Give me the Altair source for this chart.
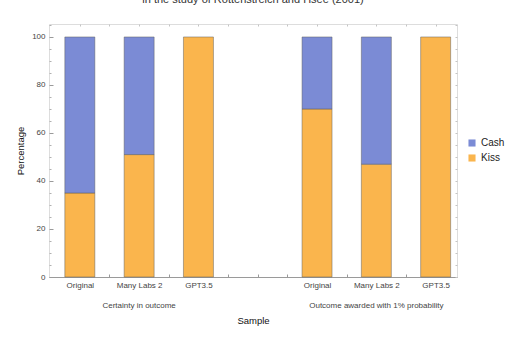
import altair as alt
import pandas as pd

# ---- data ----
samples = ["Original", "Many Labs 2", "GPT3.5"]
group_names = ["Certainty in outcome", "Outcome awarded with 1% probability"]
kiss_pct = [[35, 51, 100], [70, 47, 100]]
cash_pct = [[65, 49, 0], [30, 53, 0]]
choices = ["Cash", "Kiss"]
y_major = [0, 20, 40, 60, 80, 100]
y_minor = [5, 10, 15, 25, 30, 35, 45, 50, 55, 65, 70, 75, 85, 90, 95, 105]

FONT = "Liberation Sans"
BLUE = "#7b8bd5"
ORANGE = "#fab54d"

# slot index: bars 1..3, empty slot 4, bars 5..7
rows = []
slot_labels = [""]
centers = []
slot = 0
for g, gname in enumerate(group_names):
    gslots = []
    for i, s in enumerate(samples):
        slot += 1
        gslots.append(slot)
        slot_labels.append(s)
        for ch, vals, order in (("Kiss", kiss_pct, 0), ("Cash", cash_pct, 1)):
            v = vals[g][i]
            if v > 0:
                rows.append({"slot": slot, "sample": s, "group": gname,
                             "choice": ch, "pct": v, "ord": order})
    centers.append({"slot": sum(gslots) / len(gslots), "label": gname})
    slot += 1  # empty slot between groups
    slot_labels.append("")

df = pd.DataFrame(rows)
gdf = pd.DataFrame(centers)
boundaries = [1.5, 2.5, 3.5, 4.0, 4.5, 5.5, 6.5]
top_ticks = [1.0, 1.5, 2.0, 2.5, 3.0, 3.5, 4.0, 4.5, 5.0, 5.5, 6.0, 6.5, 7.0]

label_expr = "[" + ",".join("'" + l + "'" for l in slot_labels) + "][datum.value]"

xscale = alt.Scale(domain=[0.48, 7.36], nice=False, zero=False, padding=0)
yscale = alt.Scale(domain=[0, 105.4], nice=False, zero=True, padding=0)

bars = alt.Chart(df).mark_bar(width=30, stroke="#5a5a5a", strokeWidth=0.6, strokeOpacity=0.8).encode(
    x=alt.X("slot:Q", scale=xscale,
            axis=alt.Axis(orient="bottom", values=[1, 2, 3, 5, 6, 7], labelExpr=label_expr, tickSize=0,
                          domainColor="#9a9a9a", labelFont=FONT, labelFontSize=8,
                          labelColor="#444", labelPadding=4, grid=False,
                          title="Sample", titleFont=FONT, titleFontSize=9.5,
                          titleFontWeight="normal", titleColor="#111", titlePadding=26)),
    y=alt.Y("pct:Q", stack="zero", scale=yscale,
            axis=alt.Axis(orient="left", values=y_major, tickSize=4, offset=-4, domain=False,
                          tickColor="#9a9a9a", labelFont=FONT, labelFontSize=8,
                          labelColor="#444", labelPadding=4, grid=False,
                          title="Percentage", titleFont=FONT, titleFontSize=9.5,
                          titleFontWeight="normal", titleColor="#111", titlePadding=6)),
    color=alt.Color("choice:N", scale=alt.Scale(domain=choices, range=[BLUE, ORANGE]),
                    legend=alt.Legend(orient="none", legendX=418, legendY=114, title=None,
                                      symbolType="square", symbolSize=50, symbolStrokeWidth=0,
                                      labelFont=FONT, labelFontSize=10, labelColor="#222",
                                      rowPadding=5, padding=0)),
    order=alt.Order("ord:Q", sort="ascending"),
)

# minor y ticks (inward)
minor = alt.Chart(pd.DataFrame({"v": y_minor})).mark_point(opacity=0).encode(
    y=alt.Y("v:Q", scale=yscale,
            axis=alt.Axis(orient="left", values=y_minor, tickSize=2, offset=-2, domain=False,
                          labels=False, title=None, grid=False, tickColor="#b0b0b0")),
)

# right frame ticks (inward)
rticks = alt.Chart(pd.DataFrame({"v": y_major + y_minor})).mark_point(opacity=0).encode(
    y=alt.Y("v:Q", scale=yscale,
            axis=alt.Axis(orient="right", values=y_major + y_minor, tickSize=2, offset=-2,
                          domain=False, labels=False, title=None, grid=False,
                          tickColor="#c4c4c4")),
)

# bottom boundary ticks (inward)
bticks = alt.Chart(pd.DataFrame({"b": boundaries})).mark_point(opacity=0).encode(
    x=alt.X("b:Q", scale=xscale,
            axis=alt.Axis(orient="bottom", values=boundaries, tickSize=3, offset=-3, domain=False,
                          labels=False, title=None, grid=False, tickColor="#9a9a9a")),
)

# top frame ticks (inward)
tticks = alt.Chart(pd.DataFrame({"b": top_ticks})).mark_point(opacity=0).encode(
    x=alt.X("b:Q", scale=xscale,
            axis=alt.Axis(orient="top", values=top_ticks, tickSize=2, offset=-2, domain=False,
                          labels=False, title=None, grid=False, tickColor="#c4c4c4")),
)

groups = alt.Chart(gdf).mark_text(font=FONT, fontSize=8, color="#444", baseline="middle").encode(
    x=alt.X("slot:Q", scale=xscale, axis=None),
    y=alt.value(282),
    text="label:N",
)

chart = alt.layer(bars, minor, rticks, bticks, tticks, groups).resolve_axis(
    x="independent", y="independent"
).properties(
    width=408, height=253,
    autosize=alt.AutoSizeParams(type="none"),
    padding={"left": 49, "top": 24, "right": 68, "bottom": 69},
    title=alt.TitleParams(text="in the study of Rottenstreich and Hsee (2001)", font=FONT,
                          fontSize=11, fontWeight="normal", color="#333", anchor="middle",
                          frame="group", baseline="alphabetic", offset=8),
).configure_view(stroke="#c4c4c4", strokeWidth=1).configure(background="white")

chart.save("out.html", embed_options={"renderer": "svg", "actions": False})
